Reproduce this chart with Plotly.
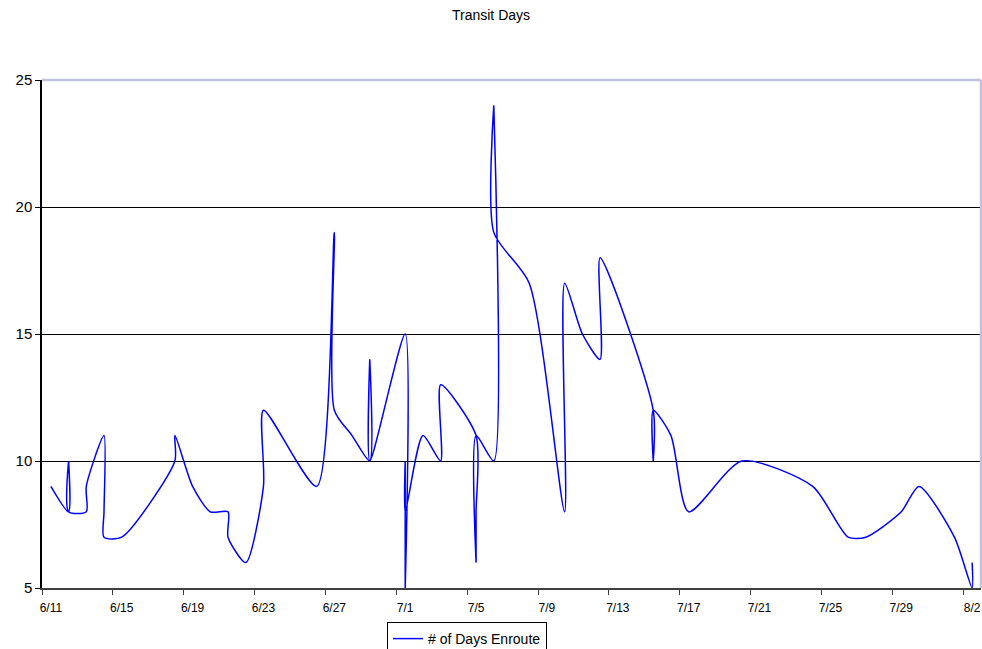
import pandas as pd
import plotly.graph_objects as go

# Shipment dates (M/D) and days enroute, in data order
dates = ["6/11", "6/12", "6/12", "6/12", "6/13", "6/13", "6/14", "6/14", "6/14",
         "6/15", "6/18", "6/18", "6/19", "6/20", "6/21", "6/21", "6/22", "6/23",
         "6/23", "6/26", "6/27", "6/27", "6/28", "6/29", "6/29", "6/29", "7/1",
         "7/1", "7/1", "7/1", "7/2", "7/3", "7/3", "7/5", "7/5", "7/5", "7/5",
         "7/6", "7/6", "7/6", "7/8", "7/10", "7/10", "7/11", "7/12", "7/12",
         "7/15", "7/15", "7/15", "7/16", "7/17", "7/20", "7/24", "7/26", "7/27",
         "7/29", "7/30", "8/1", "8/2", "8/2"]
days_enroute = [9, 8, 10, 8, 8, 9, 11, 8, 7,
                7, 10, 11, 9, 8, 8, 7, 6, 9,
                12, 9, 19, 12, 11, 10, 14, 10, 15,
                5, 10, 8, 11, 10, 13, 11, 8, 6, 11,
                10, 24, 19, 17, 8, 17, 15, 14, 18,
                12, 10, 12, 11, 8, 10, 9, 7, 7,
                8, 9, 7, 5, 6]

tick_labels = ["6/11", "6/15", "6/19", "6/23", "6/27", "7/1", "7/5", "7/9",
               "7/13", "7/17", "7/21", "7/25", "7/29", "8/2"]
y_ticks = [5, 10, 15, 20, 25]

YEAR = "2007"
start = pd.to_datetime(YEAR + "/6/11")
x_idx = [(pd.to_datetime(YEAR + "/" + d) - start).days for d in dates]
tick_idx = [(pd.to_datetime(YEAR + "/" + d) - start).days for d in tick_labels]
last_day = (pd.to_datetime(YEAR + "/8/2") - start).days

FONT = "Arial, Liberation Sans, sans-serif"

fig = go.Figure()
fig.add_trace(go.Scatter(
    x=x_idx, y=days_enroute, mode="lines",
    line=dict(color="#0000FF", width=1.5, shape="spline", smoothing=0.7),
    name="# of Days Enroute",
))

fig.update_layout(
    width=982, height=649,
    margin=dict(l=42, r=1, t=80, b=61, autoexpand=False),
    paper_bgcolor="white", plot_bgcolor="white",
    font=dict(family=FONT, color="black"),
    title=dict(text="Transit Days", x=0.5, xanchor="center",
               y=1 - 15 / 649, yanchor="middle", yref="container",
               font=dict(size=14, family=FONT, color="black")),
    showlegend=True,
    legend=dict(orientation="h", x=(467 - 42) / 939, xanchor="center",
                y=-34 / 508, yanchor="top",
                bordercolor="black", borderwidth=1,
                font=dict(size=14, family=FONT, color="black"),
                itemwidth=30, tracegroupgap=0),
    xaxis=dict(
        range=[-0.5, last_day + 0.5], automargin=False,
        tickmode="array", tickvals=tick_idx, ticktext=tick_labels,
        ticks="", showgrid=False, zeroline=False, ticklabelstandoff=8,
        showline=True, linecolor="#404040", linewidth=1.5,
        tickfont=dict(size=12, family=FONT, color="black"),
        minor=dict(tickmode="array", tickvals=[t - 0.5 for t in tick_idx],
                   ticks="outside", ticklen=5, tickcolor="#404040",
                   tickwidth=1, showgrid=False),
    ),
    yaxis=dict(
        range=[5, 25], tickmode="array", tickvals=y_ticks, automargin=False,
        ticks="outside", ticklen=5, tickcolor="black",
        showgrid=True, gridcolor="black", gridwidth=1,
        zeroline=False, showline=True, linecolor="black", linewidth=1.5,
        tickfont=dict(size=15, family=FONT, color="black"),
    ),
    shapes=[
        dict(type="line", xref="paper", yref="paper", x0=0, x1=1, y0=1, y1=1,
             line=dict(color="#C0C0E0", width=2.5), layer="above"),
        dict(type="line", xref="paper", yref="paper", x0=1, x1=1, y0=0, y1=1,
             line=dict(color="#C0C0E0", width=2.5), layer="above"),
    ],
)

fig.write_html(
    "out.html",
    config={"displayModeBar": False},
    post_script="document.body.style.margin='0';"
                "document.body.style.overflow='hidden';",
)
